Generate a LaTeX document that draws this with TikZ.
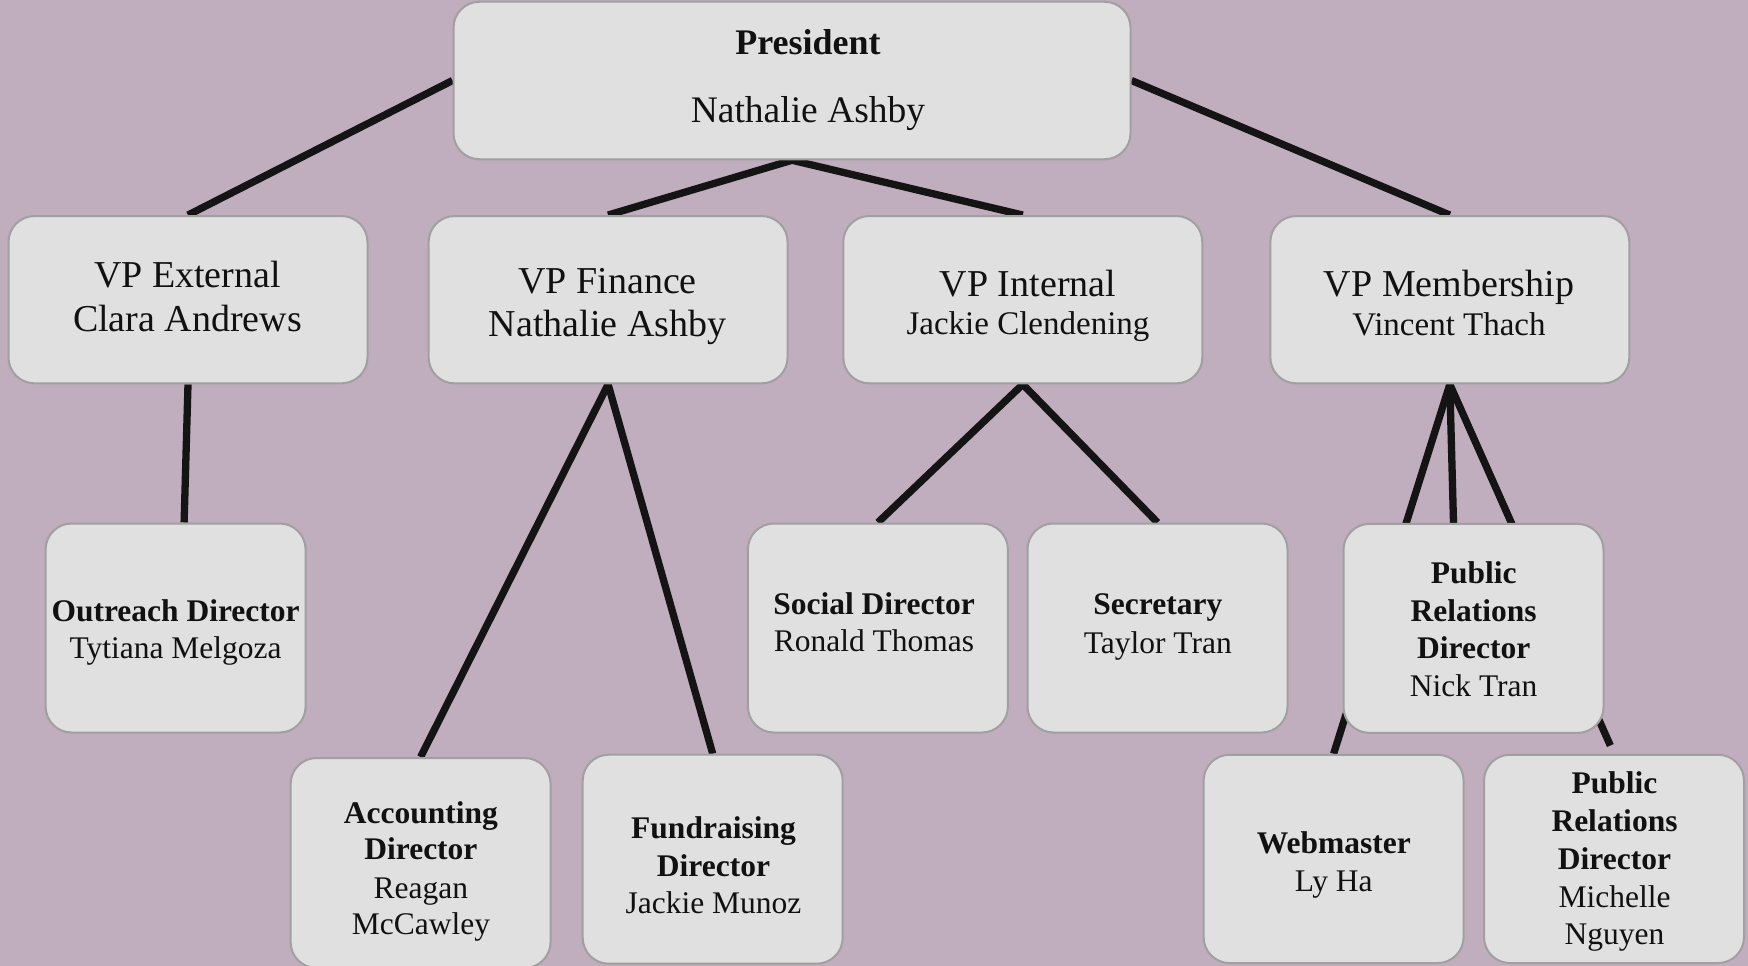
\documentclass[tikz,border=0pt]{standalone}
\usepackage{fontspec}
\setmainfont{Liberation Serif}
\pgfdeclarelayer{bg}
\pgfdeclarelayer{edges}
\pgfsetlayers{bg,edges,main}
\definecolor{bgcol}{RGB}{192,173,189}
\definecolor{boxfill}{RGB}{224,224,224}
\definecolor{boxline}{RGB}{160,160,160}
\definecolor{ink}{RGB}{17,17,17}
\definecolor{edgecol}{RGB}{20,20,20}
\tikzset{
  box/.style={draw=boxline, fill=boxfill, line width=2pt, rounded corners=26pt, inner sep=0pt},
  vpbox/.style={box, minimum width=359pt, minimum height=167.3pt},
  lowbox/.style={box, minimum width=260pt, minimum height=209pt},
  txt/.style={anchor=base, inner sep=0pt, text=ink},
  bigt/.style={txt, font=\fontsize{38}{44}\selectfont},
  midt/.style={txt, font=\fontsize{33}{38}\selectfont},
  smallt/.style={txt, font=\fontsize{31.5}{38}\selectfont},
  smallb/.style={txt, font=\fontsize{31.5}{38}\selectfont\bfseries},
  edge/.style={draw=edgecol, line width=7.3pt}
}
\begin{document}
\begin{tikzpicture}[x=1pt,y=-1pt]
\useasboundingbox (0,0) rectangle (1748,966);
\begin{pgfonlayer}{bg}
\fill[bgcol] (0,0) rectangle (1748,966);
\end{pgfonlayer}

% boxes
\node[box, minimum width=677pt, minimum height=157.5pt] (pres) at (792,80.5) {};
\node[vpbox] (vpe) at (188,299.7) {};
\node[vpbox] (vpf) at (608.1,299.7) {};
\node[vpbox] (vpi) at (1022.8,299.7) {};
\node[vpbox] (vpm) at (1449.8,299.7) {};
\node[lowbox] (out) at (175.6,628) {};
\node[lowbox] (soc) at (877.9,628) {};
\node[lowbox] (sec) at (1157.5,628) {};
\node[lowbox] (prn) at (1473.5,628.4) {};
\node[lowbox, minimum height=210pt] (acc) at (420.6,863) {};
\node[lowbox] (fun) at (712.7,859.2) {};
\node[lowbox, minimum height=208.3pt] (web) at (1333.6,858.9) {};
\node[lowbox, minimum height=208.3pt] (pmn) at (1614,858.9) {};

% texts
\node[txt, font=\fontsize{36}{40}\selectfont\bfseries] (pres1) at (808,55) {President};
\node[txt, font=\fontsize{37.5}{40}\selectfont] (pres2) at (808,122.7) {Nathalie Ashby};

\node[bigt] (vpe1) at (187.5,287.3) {VP External};
\node[bigt] (vpe2) at (187.5,331.7) {Clara Andrews};

\node[bigt] (vpf1) at (607.6,293.3) {VP Finance};
\node[bigt] (vpf2) at (607.6,336.7) {Nathalie Ashby};

\node[bigt] (vpi1) at (1028,296.7) {VP Internal};
\node[midt] (vpi2) at (1028,334.3) {Jackie Clendening};

\node[bigt] (vpm1) at (1449,296.7) {VP Membership};
\node[midt] (vpm2) at (1449,335.7) {Vincent Thach};

\node[smallb] (out1) at (175.6,621.3) {Outreach Director};
\node[smallt] (out2) at (175.6,658.7) {Tytiana Melgoza};

\node[smallb] (soc1) at (874,614.7) {Social Director};
\node[smallt] (soc2) at (874,651.3) {Ronald Thomas};

\node[smallb] (sec1) at (1157.8,614.7) {Secretary};
\node[smallt] (sec2) at (1157.8,653) {Taylor Tran};

\node[smallb] (prn1) at (1473.7,583) {Public};
\node[smallb] (prn2) at (1473.7,621.3) {Relations};
\node[smallb] (prn3) at (1473.7,658.7) {Director};
\node[smallt] (prn4) at (1473.7,696.3) {Nick Tran};

\node[smallb] (acc1) at (420.9,823) {Accounting};
\node[smallb] (acc2) at (420.9,859.7) {Director};
\node[smallt] (acc3) at (420.9,898) {Reagan};
\node[smallt] (acc4) at (420.9,934.7) {McCawley};

\node[smallb] (fun1) at (713.5,838) {Fundraising};
\node[smallb] (fun2) at (713.5,876.3) {Director};
\node[smallt] (fun3) at (713.5,913.7) {Jackie Munoz};

\node[smallb] (web1) at (1333.8,853.7) {Webmaster};
\node[smallt] (web2) at (1333.8,891.3) {Ly Ha};

\node[smallb] (pmn1) at (1614.5,793) {Public};
\node[smallb] (pmn2) at (1614.5,831.3) {Relations};
\node[smallb] (pmn3) at (1614.5,869.7) {Director};
\node[smallt] (pmn4) at (1614.5,907) {Michelle};
\node[smallt] (pmn5) at (1614.5,944.7) {Nguyen};

% connectors
\begin{pgfonlayer}{edges}
\draw[edge] (pres.west) -- (vpe.north);
\draw[edge] (pres.east) -- (vpm.north);
\draw[edge] (pres.south) -- (vpf.north);
\draw[edge] (pres.south) -- (vpi.north);
\draw[edge] (vpe.south) -- ([xshift=8.5pt]out.north);
\draw[edge] (vpf.south) -- (acc.north);
\draw[edge] (vpf.south) -- (fun.north);
\draw[edge] (vpi.south) -- (soc.north);
\draw[edge] (vpi.south) -- (sec.north);
\draw[edge] (vpm.south) -- ([xshift=-20pt]prn.north);
\draw[edge] (vpm.south) -- (web.north);
\draw[edge, shorten >=9pt] (vpm.south) -- (pmn.north);
\end{pgfonlayer}
\end{tikzpicture}
\end{document}
